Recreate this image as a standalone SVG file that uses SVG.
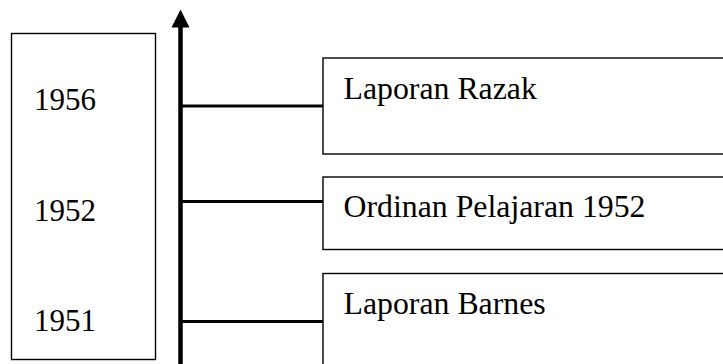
<svg xmlns="http://www.w3.org/2000/svg" width="723" height="364" viewBox="0 0 723 364">
<style>
.box{fill:#fff;stroke:#000;stroke-width:1.4}
.t{font-family:"Liberation Serif","Times New Roman",serif;font-size:31.8px;fill:#000}
.y{font-size:31px}
.conn{stroke:#000;stroke-width:3;fill:none}
</style>
<rect width="723" height="364" fill="#fff"/>
<g id="years">
<rect class="box" x="11.5" y="33.5" width="144" height="326"/>
<text class="t y" x="34" y="110">1956</text>
<text class="t y" x="34" y="220.5">1952</text>
<text class="t y" x="34" y="331">1951</text>
</g>
<g id="connectors">
<line x1="180.5" y1="26" x2="180.5" y2="364" stroke="#000" stroke-width="4.5"/>
<polygon points="180.5,9.5 171.5,27.5 189.5,27.5" fill="#000"/>
<line class="conn" x1="181" y1="106" x2="323" y2="106"/>
<line class="conn" x1="181" y1="201.5" x2="323" y2="201.5"/>
<line class="conn" x1="181" y1="321.5" x2="323" y2="321.5"/>
</g>
<g id="razak">
<rect class="box" x="323" y="58" width="410" height="96"/>
<text class="t" x="343.5" y="98.5">Laporan Razak</text>
</g>
<g id="ordinan">
<rect class="box" x="323" y="177" width="410" height="72.5"/>
<text class="t" x="343.5" y="216.5">Ordinan Pelajaran 1952</text>
</g>
<g id="barnes">
<rect class="box" x="323" y="273.5" width="410" height="100"/>
<text class="t" x="343.5" y="313.5">Laporan Barnes</text>
</g>
</svg>
